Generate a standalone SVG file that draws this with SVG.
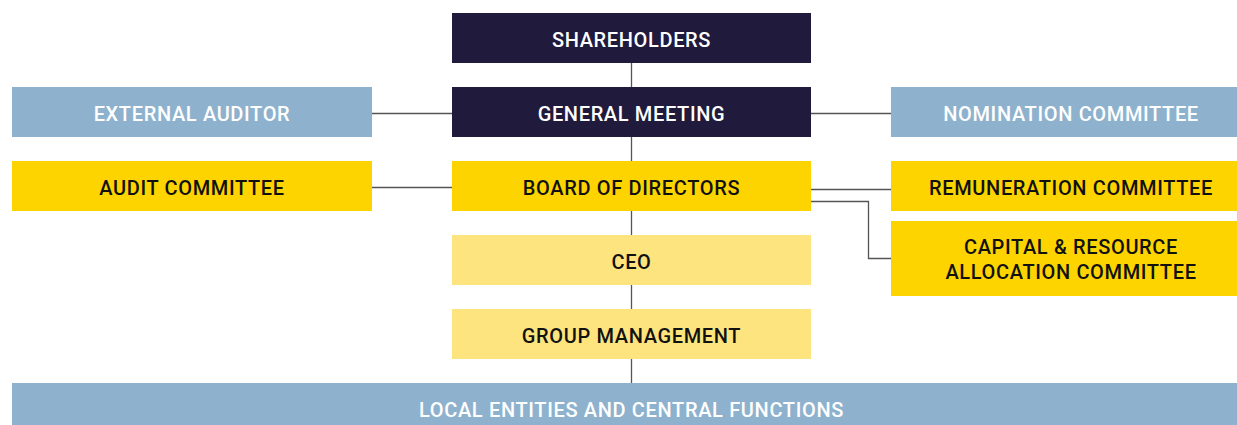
<svg xmlns="http://www.w3.org/2000/svg" width="1237" height="425" viewBox="0 0 1237 425">
<style>
text{font-family:Roboto,"Liberation Sans",sans-serif;font-size:20px;font-weight:500;letter-spacing:0.65px;text-anchor:middle;dominant-baseline:central}
.dark{fill:#201a3c}
.blue{fill:#8eb2cd}
.yel{fill:#fdd400}
.ly{fill:#fee47f}
.w{fill:#ffffff}
.k{fill:#111111}
.c{stroke:#555;stroke-width:1.3;fill:none}
</style>
<rect width="1237" height="425" fill="#ffffff"/>
<g id="connectors">
<path class="c" d="M631.5 63V383"/>
<path class="c" d="M372 113.5H452M811 113.5H891"/>
<path class="c" d="M372 187.5H452"/>
<path class="c" d="M811 189.5H891"/>
<path class="c" d="M811 201.5H868.5V258.5H891"/>
</g>
<g id="shareholders"><rect class="dark" x="452" y="13" width="359" height="50"/><text class="w" x="631.5" y="40">SHAREHOLDERS</text></g>
<g id="general-meeting"><rect class="dark" x="452" y="87" width="359" height="50"/><text class="w" x="631.5" y="114">GENERAL MEETING</text></g>
<g id="external-auditor"><rect class="blue" x="12" y="87" width="360" height="50"/><text class="w" x="192" y="114">EXTERNAL AUDITOR</text></g>
<g id="nomination-committee"><rect class="blue" x="891" y="87" width="346" height="50"/><text class="w" x="1071" y="114">NOMINATION COMMITTEE</text></g>
<g id="audit-committee"><rect class="yel" x="12" y="161" width="360" height="50"/><text class="k" x="192" y="188">AUDIT COMMITTEE</text></g>
<g id="board"><rect class="yel" x="452" y="161" width="359" height="50"/><text class="k" x="631.5" y="188">BOARD OF DIRECTORS</text></g>
<g id="remuneration-committee"><rect class="yel" x="891" y="161" width="346" height="50"/><text class="k" x="1071" y="188">REMUNERATION COMMITTEE</text></g>
<g id="capital-committee"><rect class="yel" x="891" y="221" width="346" height="75"/><text class="k" x="1071" y="247">CAPITAL &amp; RESOURCE</text><text class="k" x="1071" y="272">ALLOCATION COMMITTEE</text></g>
<g id="ceo"><rect class="ly" x="452" y="235" width="359" height="50"/><text class="k" x="631.5" y="262">CEO</text></g>
<g id="group-management"><rect class="ly" x="452" y="309" width="359" height="50"/><text class="k" x="631.5" y="336">GROUP MANAGEMENT</text></g>
<g id="local-entities"><rect class="blue" x="12" y="383" width="1225" height="50"/><text class="w" x="631.5" y="410">LOCAL ENTITIES AND CENTRAL FUNCTIONS</text></g>
</svg>
